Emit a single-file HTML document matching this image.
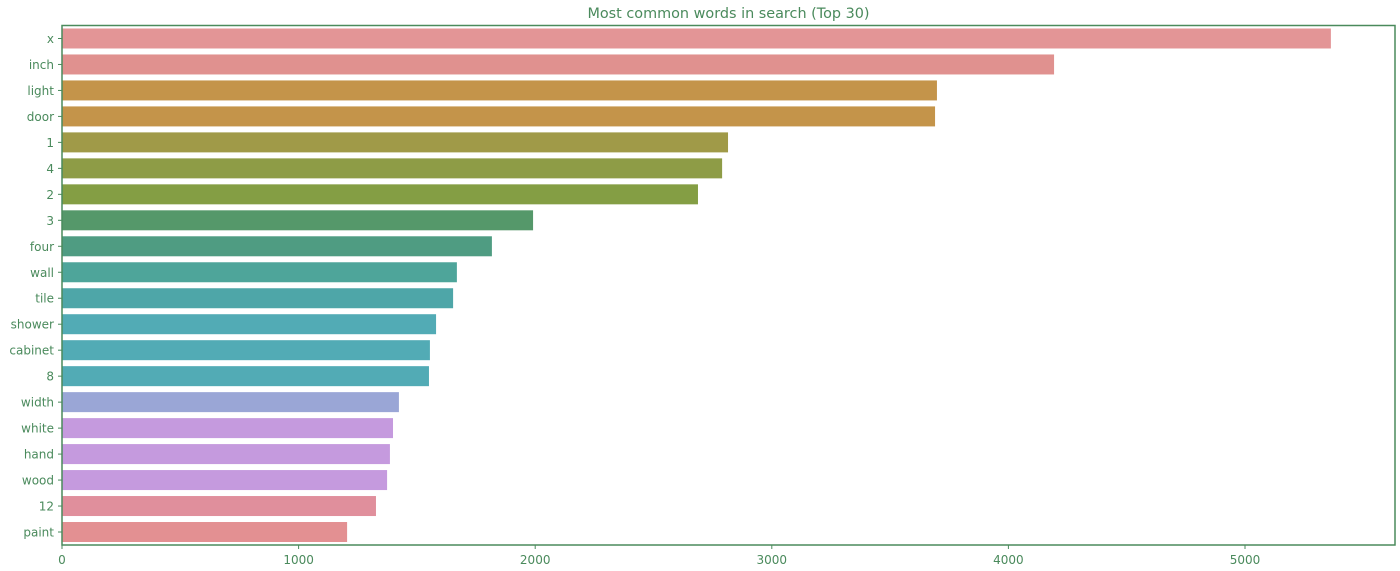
<!DOCTYPE html>
<html><head><meta charset="utf-8"><style>
html,body{margin:0;padding:0;background:#fff;}
svg{display:block;font-family:"DejaVu Sans","Liberation Sans",sans-serif;}
</style></head><body>
<svg id="chart" width="1400" height="571"></svg>
<script>
const categories=["x","inch","light","door","1","4","2","3","four","wall","tile","shower","cabinet","8","width","white","hand","wood","12","paint"];
const counts=[5363,4193,3698,3690,2815,2790,2688,1991,1817,1669,1653,1581,1555,1551,1424,1399,1386,1374,1327,1205];
const barColors=["#e39596","#e0918f","#c4944a","#c4944a","#a09a48","#8e9c46","#849e44","#55986a","#4f9c82","#4ea59a","#4ea6a8","#52abb5","#52abb5","#52abb5","#9aa6d6","#c59ade","#c59ade","#c59ade","#e08f9c","#e39092"];
const xTicks=[0,1000,2000,3000,4000,5000];
const NS="http://www.w3.org/2000/svg";
const svg=document.getElementById('chart');
const L=62,R=1395,T=25.5,B=545,G="#4a8a5c";
const xs=v=>L+v*0.2366;
const step=(B-T)/categories.length;
const ys=i=>T+step*(i+0.5);
function mk(t,a){const e=document.createElementNS(NS,t);for(const k in a)e.setAttribute(k,a[k]);svg.appendChild(e);return e;}
const title=mk('text',{x:(L+R)/2,y:18,'text-anchor':'middle','font-size':14.4,fill:G});
title.textContent='Most common words in search (Top 30)';


categories.forEach((c,i)=>{
  const r=mk('rect',{x:xs(0),y:ys(i)-10,width:xs(counts[i])-xs(0),height:20,fill:barColors[i]});
  
  
  const tk=mk('line',{x1:L-4,x2:L,y1:ys(i),y2:ys(i),stroke:G,'stroke-width':1});
  
  
  const t=mk('text',{x:L-8,y:ys(i)+4.5,'text-anchor':'end','font-size':12,fill:G});
  t.textContent=c;
  
  
});
xTicks.forEach(v=>{
  const tk=mk('line',{x1:xs(v),x2:xs(v),y1:B,y2:B+4,stroke:G,'stroke-width':1});
  
  
  const t=mk('text',{x:xs(v),y:B+19,'text-anchor':'middle','font-size':12,fill:G});
  t.textContent=v;
  
  
});
const f=mk('rect',{x:L,y:T,width:R-L,height:B-T,fill:'none',stroke:G,'stroke-width':1.5});


</script>
</body></html>
